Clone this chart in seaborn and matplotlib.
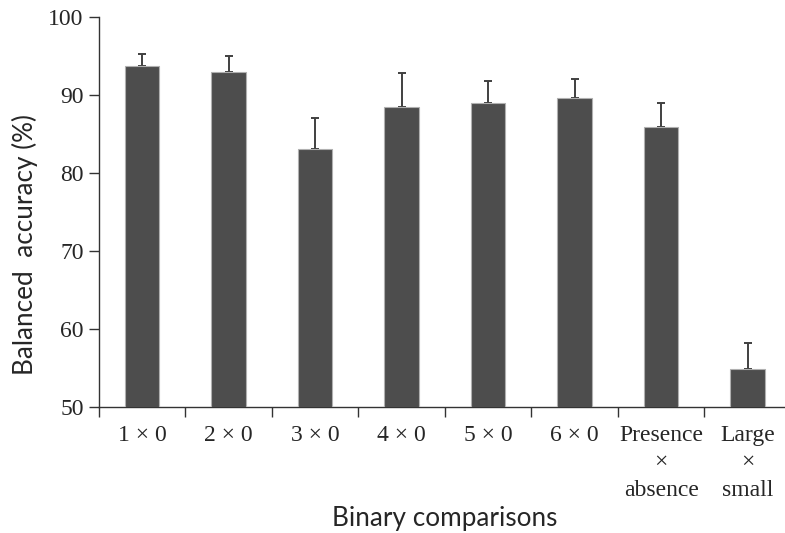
import numpy as np
import pandas as pd
import matplotlib
matplotlib.use("Agg")
import matplotlib.pyplot as plt
import seaborn as sns

# datos
comparaciones = ["1 × 0", "2 × 0", "3 × 0", "4 × 0", "5 × 0", "6 × 0",
                 "Presence\n×\nabsence", "Large\n×\nsmall"]
precision = [93.75, 92.95, 83.05, 88.55, 88.95, 89.6, 85.95, 54.9]
error_sup = [1.55, 2.15, 4.05, 4.25, 2.85, 2.45, 3.0, 3.3]

df = pd.DataFrame({"Comparacion": comparaciones, "Precision": precision})

sns.set_style("ticks")
plt.rcParams["font.family"] = ["Liberation Serif", "DejaVu Serif"]

fig = plt.figure(figsize=(7.85, 5.33), dpi=100)
ax = fig.add_axes([0.126, 0.2364, 0.8815, 0.7311])  # el eje sigue mas alla del borde derecho

sns.barplot(data=df, x="Comparacion", y="Precision", color="#4d4d4d",
            width=0.4, errorbar=None, edgecolor="#b0b0b0", linewidth=0.8,
            saturation=1, ax=ax, zorder=3)

# barras de error solo hacia arriba
x = np.arange(len(comparaciones))
ax.errorbar(x, precision, yerr=[np.zeros(len(x)), error_sup], fmt="none",
            ecolor="#404040", elinewidth=1.4, capsize=2.6, capthick=1.4, zorder=2)

ax.set_ylim(50, 100)
ax.set_xlim(-0.5, len(comparaciones) - 0.5)
ax.set_yticks([50, 60, 70, 80, 90, 100])

# marcas en los limites de cada categoria
ax.set_xticks(x)
ax.set_xticks(np.arange(len(comparaciones)) - 0.5, minor=True)
ax.tick_params(axis="x", which="major", length=0, pad=13, labelsize=17)
ax.tick_params(axis="x", which="minor", length=7, width=1, color="#333333")
ax.tick_params(axis="y", length=7, width=1, color="#333333", labelsize=17, pad=4)
for lbl in ax.get_xticklabels():
    lbl.set_linespacing(1.4)
    lbl.set_verticalalignment("top")

for s in ["left", "bottom"]:
    ax.spines[s].set_color("#333333")
    ax.spines[s].set_linewidth(1.0)
sns.despine(ax=ax)

ax.set_xlabel("Binary comparisons", family=["Lato", "DejaVu Sans"], fontsize=18.8)
ax.set_ylabel("Balanced  accuracy (%)", family=["Lato", "DejaVu Sans"], fontsize=18.8)
ax.xaxis.set_label_coords(0.5, -0.254)
ax.yaxis.set_label_coords(-0.088, 0.416)

fig.savefig("out.png", dpi=100)
